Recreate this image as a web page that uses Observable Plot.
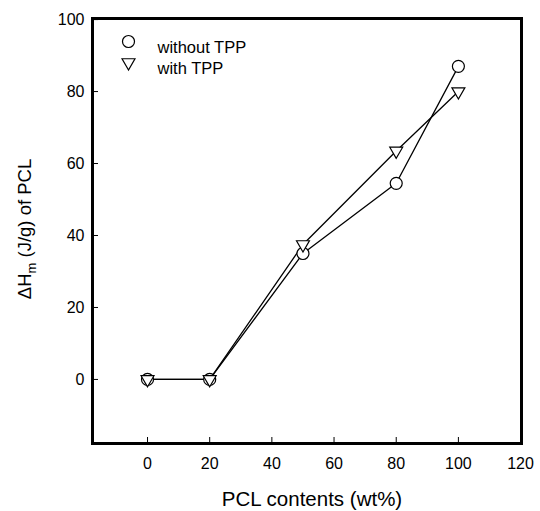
<!DOCTYPE html>
<html>
<head>
<meta charset="utf-8">
<script src="https://cdn.jsdelivr.net/npm/d3@7"></script>
<script src="https://cdn.jsdelivr.net/npm/@observablehq/plot@0.6"></script>
<style>
  html, body { margin: 0; padding: 0; background: #fff; }
  #chart svg { display: block; }
</style>
</head>
<body>
<div id="chart"></div>
<script>
// PCL content (wt%)
const pcl = [0, 20, 50, 80, 100];
// ΔHm (J/g) of PCL
const withoutTPP = [0, 0, 35, 54.5, 87];
const withTPP = [0, 0, 37.5, 63.5, 80];
const seriesNames = ["without TPP", "with TPP"];
const xTicks = [0, 20, 40, 60, 80, 100, 120];
const yTicks = [0, 20, 40, 60, 80, 100];
const xTitle = "PCL contents (wt%)";

const rowsA = pcl.map((x, i) => ({x, y: withoutTPP[i]}));
const rowsB = pcl.map((x, i) => ({x, y: withTPP[i]}));

const W = 540, H = 511, ML = 92, MR = 19, MT = 18, MB = 68;
const frameW = W - ML - MR, frameH = H - MT - MB;

const chart = Plot.plot({
  width: W,
  height: H,
  marginLeft: ML,
  marginRight: MR,
  marginTop: MT,
  marginBottom: MB,
  style: {fontFamily: "'Liberation Sans', Arial, sans-serif", fontSize: "16px", background: "#fff", color: "#000"},
  x: {domain: [-17.7, 120.3]},
  y: {domain: [-17.8, 100.3]},
  marks: [
    Plot.axisX(xTicks, {tickSize: 0, tickPadding: 14, label: null, fontSize: 16}),
    Plot.axisY(yTicks, {tickSize: 0, tickPadding: 8, label: null, fontSize: 16}),
    // inward tick marks
    Plot.tickX(xTicks, {x: d => d, insetTop: frameH - 6, stroke: "black", strokeWidth: 1}),
    Plot.tickY(yTicks, {y: d => d, insetRight: frameW - 6, stroke: "black", strokeWidth: 1}),
    Plot.line(rowsA, {x: "x", y: "y", stroke: "black", strokeWidth: 1.3}),
    Plot.line(rowsB, {x: "x", y: "y", stroke: "black", strokeWidth: 1.3}),
    Plot.dot(rowsA, {x: "x", y: "y", symbol: "circle", r: 6, fill: "white", stroke: "black", strokeWidth: 1.2}),
    Plot.dot(rowsB, {x: "x", y: "y", symbol: "triangle", rotate: 180, r: 4.8, fill: "white", stroke: "black", strokeWidth: 1.2}),
    // legend
    Plot.dot([seriesNames[0]], {frameAnchor: "top-left", dx: 36, dy: 23, symbol: "circle", r: 6, fill: "white", stroke: "black", strokeWidth: 1.2}),
    Plot.dot([seriesNames[1]], {frameAnchor: "top-left", dx: 36, dy: 44, symbol: "triangle", rotate: 180, r: 4.8, fill: "white", stroke: "black", strokeWidth: 1.2}),
    Plot.text([seriesNames[0]], {frameAnchor: "top-left", dx: 65, dy: 23, text: d => d, textAnchor: "start", fontSize: 16.5}),
    Plot.text([seriesNames[1]], {frameAnchor: "top-left", dx: 65, dy: 44, text: d => d, textAnchor: "start", fontSize: 16.5}),
    Plot.frame({stroke: "black", strokeWidth: 3})
  ]
});

document.getElementById("chart").appendChild(chart);

// axis titles
const svg = d3.select(chart);
svg.append("text")
  .attr("x", 312)
  .attr("y", 506)
  .attr("text-anchor", "middle")
  .attr("font-size", 20.5)
  .attr("fill", "black")
  .text(xTitle);

const yt = svg.append("text")
  .attr("transform", "translate(31,229) rotate(-90)")
  .attr("text-anchor", "middle")
  .attr("font-size", 18.5)
  .attr("fill", "black");
yt.append("tspan").text("ΔH");
yt.append("tspan").attr("font-size", 13).attr("dy", 5).text("m");
yt.append("tspan").attr("dy", -5).text(" (J/g) of PCL");
</script>
</body>
</html>
